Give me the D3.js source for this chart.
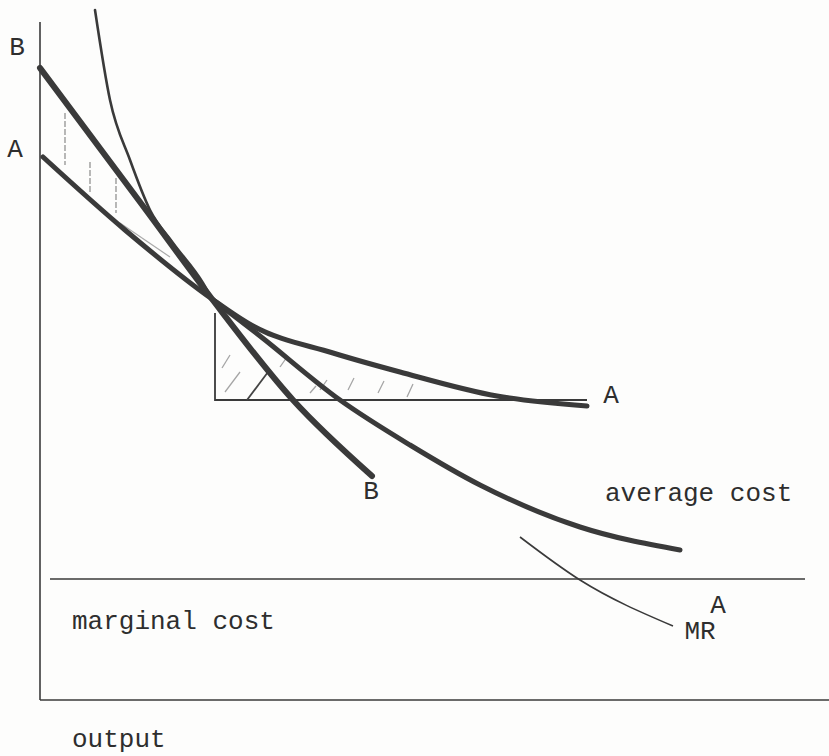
<!DOCTYPE html>
<html>
<head>
<meta charset="utf-8">
<script src="https://cdn.jsdelivr.net/npm/d3@7/dist/d3.min.js"></script>
<style>
  html, body { margin: 0; padding: 0; background: #fdfdfc; }
  svg { display: block; }
  text { font-family: "Liberation Mono", "DejaVu Sans Mono", monospace; fill: #2e2e2e; }
</style>
</head>
<body>
<script>
// ---- data (abstract units: output on x, cost on y) ----
const acUpper = [[5.5,69.0],[7.0,60.0],[9.0,54.0],[11.0,49.0],[13.3,45.7],[16.3,41.7],[17.2,40.1]];
const acLower = [[17.2,40.1],[22.0,36.4],[30.0,30.0],[37.0,25.5],[44.0,21.5],[54.0,17.3],[64.0,15.0]];
const curveB  = [[0.0,63.2],[10.3,49.4],[17.2,40.1],[25.3,30.0],[33.2,22.4]];
const curveA  = [[0.3,54.3],[8.5,47.0],[17.2,40.1],[21.3,37.4],[29.3,34.7],[36.0,32.8],[45.7,30.4],[54.7,29.4]];
const curveMR = [[48.0,16.3],[54.0,12.0],[63.3,7.4]];
const mcLevel = 12.1, mcFrom = 1.0, mcTo = 76.5;
const triangle = [[17.5,38.7],[17.5,30.0],[54.7,30.0]];
const vHatch = [[2.5,58.7,53.5],[5.0,53.8,50.7],[7.6,52.2,48.7]];
const faintLine = [[8.0,47.7],[13.0,44.3]];
const dHatch = [
  [18.2,33.2,19.0,34.5,0],[18.5,30.8,20.0,32.8,0],[20.7,30.0,22.8,32.8,1],
  [24.0,33.3,24.7,34.3,0],[27.0,30.7,27.6,31.4,0],[28.0,31.0,28.7,32.0,0],
  [30.8,31.0,31.4,32.2,0],[33.8,30.7,34.4,31.9,0],[36.7,30.3,37.3,31.6,0]
];
const labels = [
  {t:"B", x:-2.3, y:65.2, a:"middle"},
  {t:"A", x:-2.5, y:55.0, a:"middle"},
  {t:"A", x:57.1, y:30.4, a:"middle"},
  {t:"B", x:33.1, y:20.8, a:"middle"},
  {t:"average cost", x:56.5, y:20.6, a:"start"},
  {t:"A", x:67.8, y:9.4, a:"middle"},
  {t:"MR", x:66.0, y:6.8, a:"middle"},
  {t:"marginal cost", x:3.2, y:7.8, a:"start"},
  {t:"output", x:3.2, y:-4.0, a:"start"}
];
const axisXEnd = 78.9, axisYTop = 67.8;

// ---- drawing ----
const W = 829, H = 756;
const x = d3.scaleLinear().domain([0, 76]).range([40, 800]);
const y = d3.scaleLinear().domain([0, 68]).range([700, 20]);

const svg = d3.select("body").append("svg").attr("width", W).attr("height", H);
svg.append("rect").attr("width", W).attr("height", H).attr("fill", "#fdfdfc");

const ink = "#3a3a3a";
const line = d3.line().x(d => x(d[0])).y(d => y(d[1])).curve(d3.curveMonotoneX);
const straight = d3.line().x(d => x(d[0])).y(d => y(d[1]));

// axes
svg.append("line").attr("x1", x(0)).attr("x2", x(0)).attr("y1", y(0)).attr("y2", y(axisYTop))
  .attr("stroke", ink).attr("stroke-width", 1.6);
svg.append("line").attr("x1", x(0)).attr("x2", x(axisXEnd)).attr("y1", y(0)).attr("y2", y(0))
  .attr("stroke", ink).attr("stroke-width", 1.6);

// marginal cost
svg.append("line").attr("x1", x(mcFrom)).attr("x2", x(mcTo)).attr("y1", y(mcLevel)).attr("y2", y(mcLevel))
  .attr("stroke", ink).attr("stroke-width", 1.6);

// hatching top-left
svg.selectAll(".vh").data(vHatch).join("line")
  .attr("x1", d => x(d[0])).attr("x2", d => x(d[0]))
  .attr("y1", d => y(d[1])).attr("y2", d => y(d[2]))
  .attr("stroke", "#9a9a9a").attr("stroke-width", 1.4).attr("stroke-dasharray", "6,2");
svg.append("path").attr("d", straight(faintLine)).attr("fill", "none")
  .attr("stroke", "#aaa").attr("stroke-width", 1.2);

// triangle
svg.append("path").attr("d", straight(triangle)).attr("fill", "none")
  .attr("stroke", ink).attr("stroke-width", 1.8);
svg.selectAll(".dh").data(dHatch).join("line")
  .attr("x1", d => x(d[0])).attr("y1", d => y(d[1]))
  .attr("x2", d => x(d[2])).attr("y2", d => y(d[3]))
  .attr("stroke", d => d[4] ? "#444" : "#a5a5a5")
  .attr("stroke-width", d => d[4] ? 1.8 : 1.3);

// curves
svg.append("path").attr("d", line(acUpper)).attr("fill", "none")
  .attr("stroke", ink).attr("stroke-width", 2.6).attr("stroke-linecap", "round");
svg.append("path").attr("d", line(acLower)).attr("fill", "none")
  .attr("stroke", ink).attr("stroke-width", 5).attr("stroke-linecap", "round");
svg.append("path").attr("d", line(curveA)).attr("fill", "none")
  .attr("stroke", ink).attr("stroke-width", 5).attr("stroke-linecap", "round");
svg.append("path").attr("d", line(curveB)).attr("fill", "none")
  .attr("stroke", ink).attr("stroke-width", 6).attr("stroke-linecap", "round");
svg.append("path").attr("d", line(curveMR)).attr("fill", "none")
  .attr("stroke", ink).attr("stroke-width", 1.6);

// labels
svg.selectAll(".lbl").data(labels).join("text")
  .attr("x", d => x(d.x)).attr("y", d => y(d.y))
  .attr("text-anchor", d => d.a).attr("dominant-baseline", "central")
  .attr("font-size", 26)
  .text(d => d.t);
</script>
</body>
</html>
